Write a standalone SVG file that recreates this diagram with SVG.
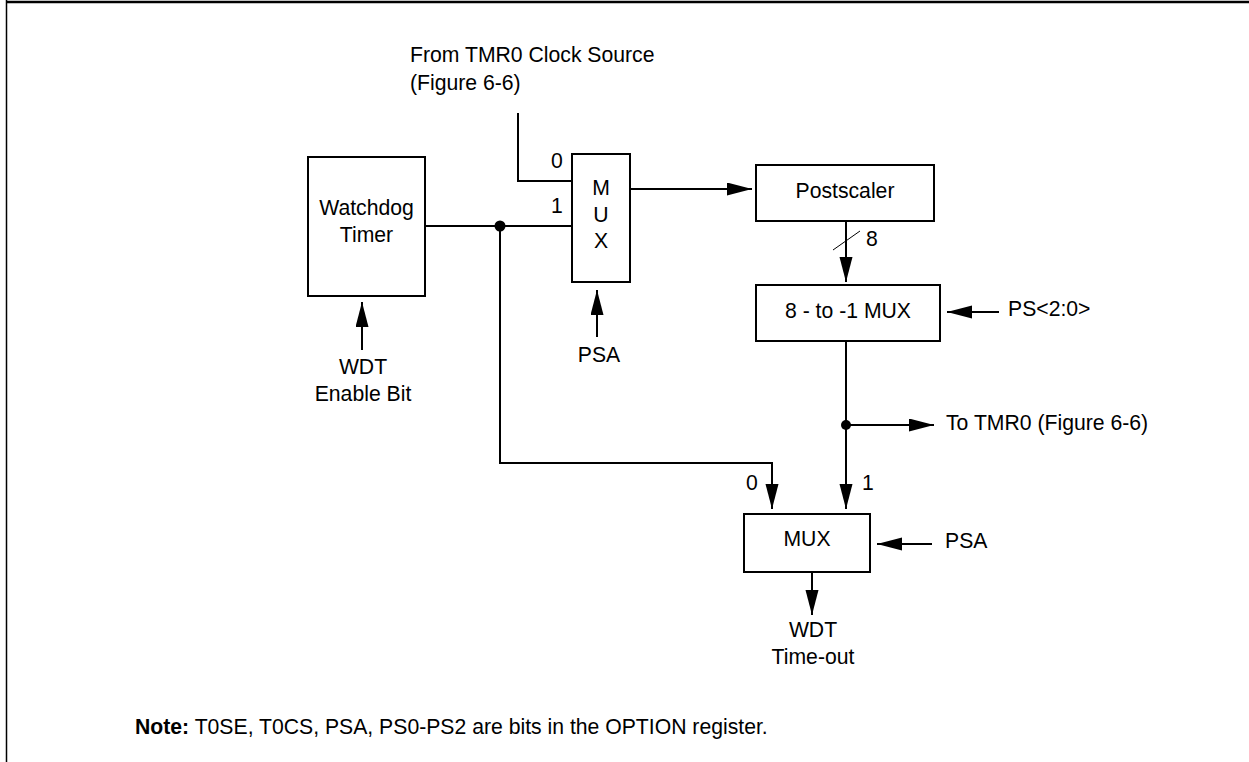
<svg xmlns="http://www.w3.org/2000/svg" width="1249" height="762" viewBox="0 0 1249 762">
<style>
  text { font-family: "Liberation Sans", Arial, sans-serif; font-size: 21.2px; fill: #000; }
  .c { text-anchor: middle; }
  .box { fill: #fff; stroke: #000; stroke-width: 2; }
  .wire { fill: none; stroke: #000; stroke-width: 2; }
  .arr { marker-end: url(#ah); }
  .b { font-weight: bold; }
</style>
<defs>
  <marker id="ah" markerUnits="userSpaceOnUse" markerWidth="26" markerHeight="14" refX="25" refY="6.5" orient="auto">
    <path d="M0,0 L25,6.5 L0,13 Z" fill="#000"/>
  </marker>
</defs>
<rect width="1249" height="762" fill="#fff"/>
<g id="frame">
  <line x1="6" y1="2" x2="1249" y2="2" stroke="#000" stroke-width="2.5"/>
  <line x1="6.5" y1="0" x2="6.5" y2="762" stroke="#000" stroke-width="1.5"/>
</g>
<g id="connectors">
  <polyline class="wire" points="518,113 518,181 572,181"/>
  <line class="wire" x1="425" y1="226" x2="572" y2="226"/>
  <polyline class="wire arr" points="500,226 500,463 772,463 772,509"/>
  <circle cx="500" cy="226" r="5.5" fill="#000"/>
  <line class="wire arr" x1="630" y1="189" x2="752" y2="189"/>
  <line class="wire arr" x1="846" y1="221" x2="846" y2="282"/>
  <line x1="833" y1="250" x2="860" y2="231" stroke="#000" stroke-width="1"/>
  <line class="wire arr" x1="999" y1="312" x2="947" y2="312"/>
  <line class="wire arr" x1="846" y1="341" x2="846" y2="509"/>
  <circle cx="846" cy="425" r="5" fill="#000"/>
  <line class="wire arr" x1="846" y1="425" x2="934" y2="425"/>
  <line class="wire arr" x1="812" y1="572" x2="812" y2="615"/>
  <line class="wire arr" x1="932" y1="544" x2="877" y2="544"/>
  <line class="wire arr" x1="597" y1="337" x2="597" y2="290"/>
  <line class="wire arr" x1="362" y1="350" x2="362" y2="302"/>
</g>
<g id="watchdog">
  <rect class="box" x="308" y="157" width="117" height="139"/>
  <text class="c" x="366.5" y="215">Watchdog</text>
  <text class="c" x="366.5" y="242">Timer</text>
</g>
<g id="mux1">
  <rect class="box" x="572" y="154" width="58" height="128"/>
  <text class="c" x="601" y="195">M</text>
  <text class="c" x="601" y="222">U</text>
  <text class="c" x="601" y="248">X</text>
</g>
<g id="postscaler">
  <rect class="box" x="756" y="165" width="178" height="56"/>
  <text class="c" x="845" y="198">Postscaler</text>
</g>
<g id="mux8to1">
  <rect class="box" x="756" y="285" width="184" height="56"/>
  <text class="c" x="848" y="318">8 - to -1 MUX</text>
</g>
<g id="mux2">
  <rect class="box" x="744" y="514" width="126" height="58"/>
  <text class="c" x="807" y="546">MUX</text>
</g>
<g id="labels">
  <text x="410" y="62">From TMR0 Clock Source</text>
  <text x="410" y="90">(Figure 6-6)</text>
  <text class="c" x="557" y="168">0</text>
  <text class="c" x="557" y="213">1</text>
  <text x="866" y="246">8</text>
  <text x="1008" y="316">PS&lt;2:0&gt;</text>
  <text x="946" y="430">To TMR0 (Figure 6-6)</text>
  <text class="c" x="752" y="490">0</text>
  <text class="c" x="868" y="490">1</text>
  <text x="945" y="548">PSA</text>
  <text class="c" x="813" y="637">WDT</text>
  <text class="c" x="813" y="664">Time-out</text>
  <text class="c" x="599" y="362">PSA</text>
  <text class="c" x="363" y="374">WDT</text>
  <text class="c" x="363" y="401">Enable Bit</text>
  <text x="135" y="734"><tspan class="b">Note:</tspan> T0SE, T0CS, PSA, PS0-PS2 are bits in the OPTION register.</text>
</g>
</svg>
